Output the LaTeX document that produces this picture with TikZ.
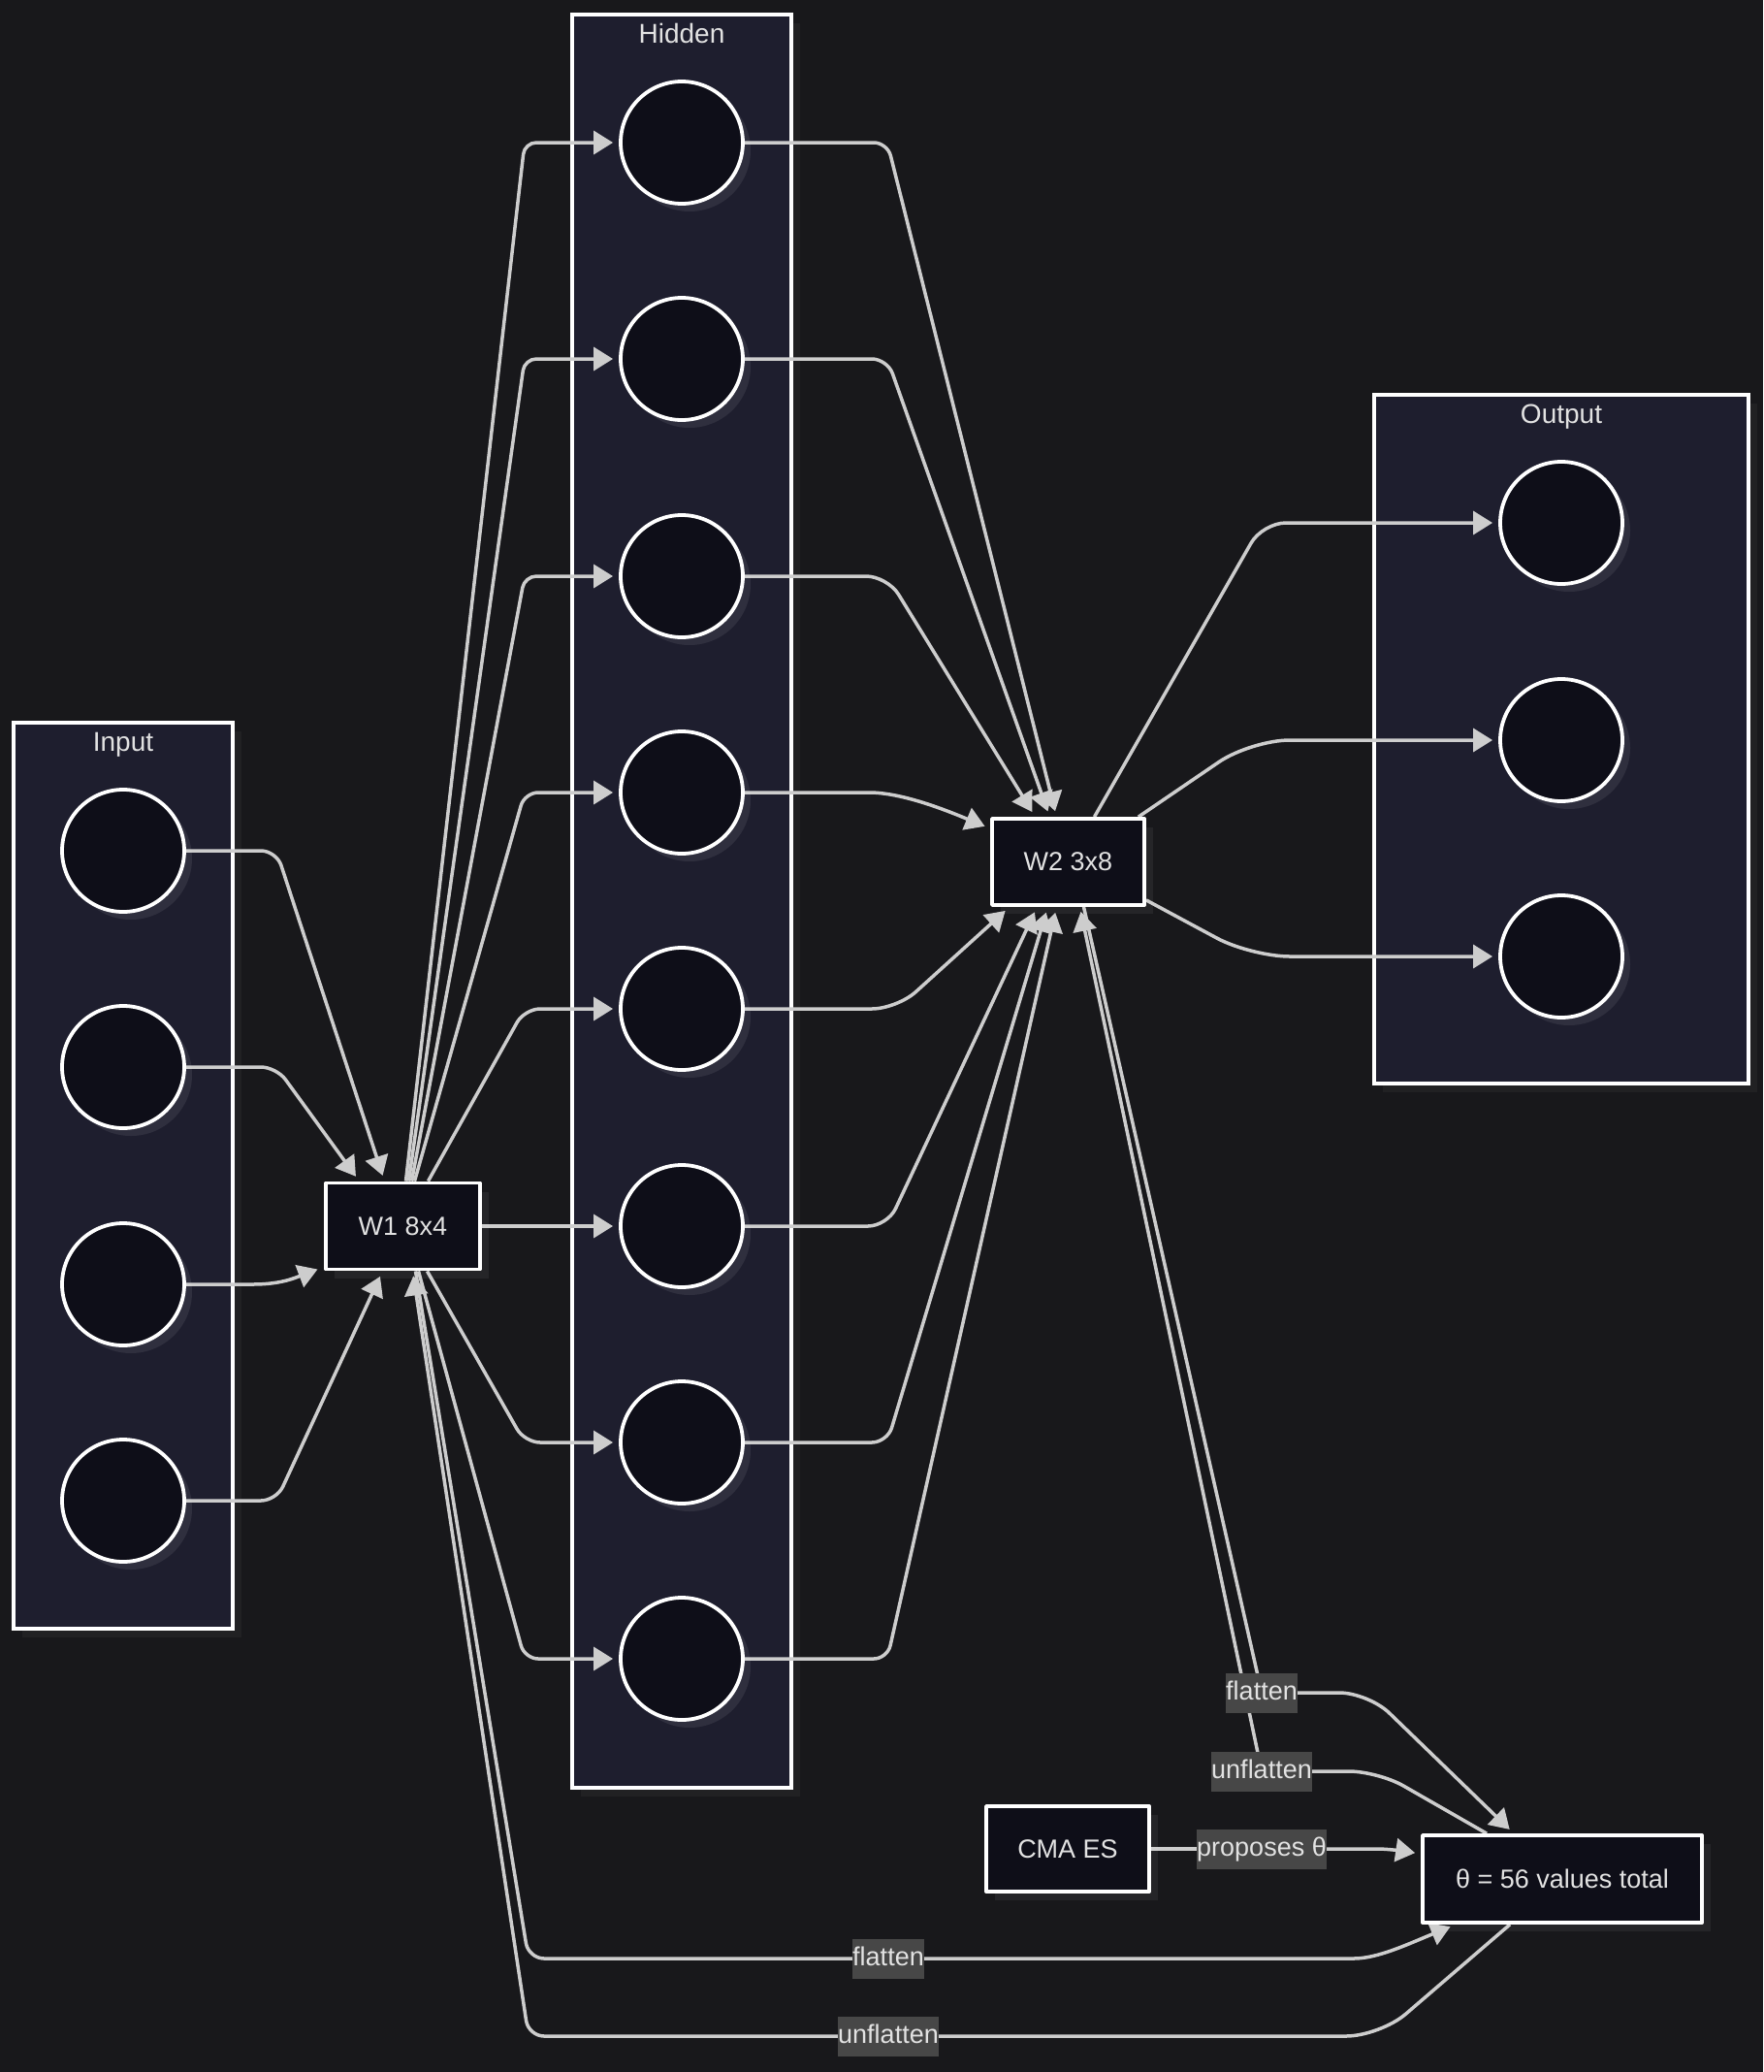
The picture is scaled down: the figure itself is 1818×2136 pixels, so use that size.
\documentclass[tikz,border=0pt]{standalone}
\usepackage{fontspec}
\setmainfont{Liberation Sans}
\usetikzlibrary{arrows.meta,calc,shadows}
\definecolor{bgc}{HTML}{18181B}
\definecolor{clus}{HTML}{1E1E2E}
\definecolor{nodef}{HTML}{0E0E18}
\definecolor{edgec}{HTML}{CDCDCD}
\definecolor{lblbg}{HTML}{474747}
\definecolor{txt}{HTML}{E2E2E2}
\pgfdeclarelayer{bg}
\pgfdeclarelayer{edgelayer}
\pgfsetlayers{bg,edgelayer,main}
\begin{document}
\begin{tikzpicture}[x=1pt,y=-1pt,line join=round,
  every node/.style={font=\fontsize{27}{32}\selectfont,text=txt},
  cluster/.style={draw=white,line width=3.8pt,fill=clus,inner sep=0pt,
    drop shadow={shadow xshift=9pt,shadow yshift=-9pt,fill=white,opacity=0.04}},
  ctitle/.style={anchor=base,text=txt,font=\fontsize{28}{32}\selectfont},
  neuron/.style={circle,draw=white,line width=3.8pt,fill=nodef,minimum size=126pt,inner sep=0pt,
    drop shadow={shadow xshift=8pt,shadow yshift=-8pt,fill=white,opacity=0.08}},
  wbox/.style={rectangle,draw=white,line width=3.8pt,fill=nodef,minimum height=89pt,inner sep=0pt,
    drop shadow={shadow xshift=9pt,shadow yshift=-9pt,fill=white,opacity=0.06}},
  edge/.style={draw=edgec,line width=3.5pt,-{Triangle[length=20pt,width=24pt]},shorten >=6pt,rounded corners=16pt},
  plain/.style={draw=edgec,line width=3.5pt,rounded corners=16pt},
  elabel/.style={fill=lblbg,text=txt,inner xsep=0.5pt,inner ysep=7.5pt,text height=20pt,text depth=6pt},
]
\begin{pgfonlayer}{bg}
\fill[bgc] (0,0) rectangle (1818,2136);
\useasboundingbox (0,0) rectangle (1818,2136);
\node[cluster,minimum width=226pt,minimum height=934pt] (incl) at (127,1212) {};
\node[cluster,minimum width=226pt,minimum height=1828pt] (hicl) at (703,929) {};
\node[cluster,minimum width=386pt,minimum height=710pt] (oucl) at (1610,762) {};
\node[ctitle] (intitle) at ($(incl.north)+(0,31)$) {Input};
\node[ctitle] (hititle) at ($(hicl.north)+(0,31)$) {Hidden};
\node[ctitle] (outitle) at ($(oucl.north)+(0,31)$) {Output};
\end{pgfonlayer}

% nodes
\node[neuron] (i1) at (127,877) {};
\node[neuron] (i2) at (127,1100) {};
\node[neuron] (i3) at (127,1324) {};
\node[neuron] (i4) at (127,1547) {};
\node[neuron] (hd1) at (703,147) {};
\node[neuron] (hd2) at (703,370) {};
\node[neuron] (hd3) at (703,594) {};
\node[neuron] (hd4) at (703,817) {};
\node[neuron] (hd5) at (703,1040) {};
\node[neuron] (hd6) at (703,1264) {};
\node[neuron] (hd7) at (703,1487) {};
\node[neuron] (hd8) at (703,1710) {};
\node[neuron] (op1) at (1610,539) {};
\node[neuron] (op2) at (1610,763) {};
\node[neuron] (op3) at (1610,986) {};
\node[wbox,minimum width=159pt] (w1) at (415.5,1264) {W1 8x4};
\node[wbox,minimum width=157pt] (w2) at (1101.5,888.5) {W2 3x8};
\node[wbox,minimum width=168pt,minimum height=88pt] (cma) at (1101,1906) {CMA ES};
\node[wbox,minimum width=288pt,minimum height=90pt] (theta) at (1611,1937) {θ = 56 values total};

% edge labels
\node[elabel] (fl1) at (1301,1745) {flatten};
\node[elabel] (uf1) at (1301,1826) {unflatten};
\node[elabel] (pr) at (1301,1906) {proposes θ};
\node[elabel] (fl2) at (916,2019) {flatten};
\node[elabel] (uf2) at (916,2099) {unflatten};

\begin{pgfonlayer}{edgelayer}
% input -> W1
\draw[edge] (i1.east) -- (285,877) -- ($(w1.north)+(-19,0)$);
\draw[edge] (i2.east) -- (285,1100) -- ($(w1.north)+(-45,0)$);
\draw[edge] (i3.east) -- (245,1324) .. controls (290,1324) and (305,1317) .. ($(w1.south west)+(-1,-4)$);
\draw[edge] (i4.east) -- (285,1547) -- ($(w1.south)+(-21,0)$);
% W1 -> hidden
\draw[edge,rounded corners=12pt] ($(w1.north)+(3,0)$) -- (541,147) -- (hd1.west);
\draw[edge,rounded corners=12pt] ($(w1.north)+(6,0)$) -- (541,370) -- (hd2.west);
\draw[edge,rounded corners=12pt] ($(w1.north)+(9,0)$) -- (541,594) -- (hd3.west);
\draw[edge,rounded corners=14pt] ($(w1.north)+(12,0)$) -- (541,817) -- (hd4.west);
\draw[edge,rounded corners=16pt] ($(w1.north)+(26,0)$) -- (541,1040) -- (hd5.west);
\draw[edge] (w1.east) -- (hd6.west);
\draw[edge,rounded corners=16pt] ($(w1.south)+(25,0)$) -- (541,1487) -- (hd7.west);
\draw[edge,rounded corners=14pt] ($(w1.south)+(16,0)$) -- (541,1710) -- (hd8.west);
% hidden -> W2
\draw[edge,rounded corners=14pt] (hd1.east) -- (915,147) -- ($(w2.north)+(-12,0)$);
\draw[edge,rounded corners=16pt] (hd2.east) -- (915,370) -- ($(w2.north)+(-19,0)$);
\draw[edge,rounded corners=22pt] (hd3.east) -- (915,594) -- ($(w2.north)+(-34,0)$);
\draw[edge] (hd4.east) -- (880,817) .. controls (930,817) and (975,835) .. ($(w2.north west)+(0,12)$);
\draw[edge,rounded corners=26pt] (hd5.east) -- (925,1040) -- ($(w2.south west)+(20,0)$);
\draw[edge,rounded corners=20pt] (hd6.east) -- (915,1264) -- ($(w2.south)+(-32,0)$);
\draw[edge,rounded corners=16pt] (hd7.east) -- (915,1487) -- ($(w2.south)+(-21,0)$);
\draw[edge,rounded corners=14pt] (hd8.east) -- (915,1710) -- ($(w2.south)+(-12,0)$);
% W2 -> output
\draw[edge,rounded corners=24pt] ($(w2.north)+(27,0)$) -- (1302,539) -- (op1.west);
\draw[edge,rounded corners=40pt] ($(w2.north east)+(-8,0)$) -- (1290,763) -- (op2.west);
\draw[edge,rounded corners=40pt] ($(w2.south east)+(0,-7)$) -- (1290,986) -- (op3.west);
% flatten / unflatten (W2)
\draw[plain] ($(w2.south)+(16,0)$) -- (fl1.center);
\draw[edge,rounded corners=30pt] (fl1.center) -- (1411,1745) -- ($(theta.north)+(-50,0)$);
\draw[plain,rounded corners=30pt] ($(theta.north)+(-78,0)$) -- (1421,1826) -- (uf1.center);
\draw[edge,shorten >=5pt] (uf1.center) -- ($(w2.south)+(12,0)$);
% CMA ES -> theta
\draw[plain] (cma.east) -- (pr.center);
\draw[edge] (pr.center) -- (1405,1906) .. controls (1430,1906) and (1445,1908) .. ($(theta.west)+(0,-26)$);
% flatten / unflatten (W1)
\draw[plain] ($(w1.south)+(13,0)$) -- (545,2019) -- (fl2.center);
\draw[edge] (fl2.center) -- (1380,2019) .. controls (1420,2019) and (1450,2005) .. ($(theta.south west)+(36,0)$);
\draw[plain,rounded corners=35pt] ($(theta.south)+(-54,0)$) -- (1423,2099) -- (uf2.center);
\draw[edge,shorten >=5pt] (uf2.center) -- (545,2099) -- ($(w1.south)+(10,0)$);
\end{pgfonlayer}
\end{tikzpicture}
\end{document}
